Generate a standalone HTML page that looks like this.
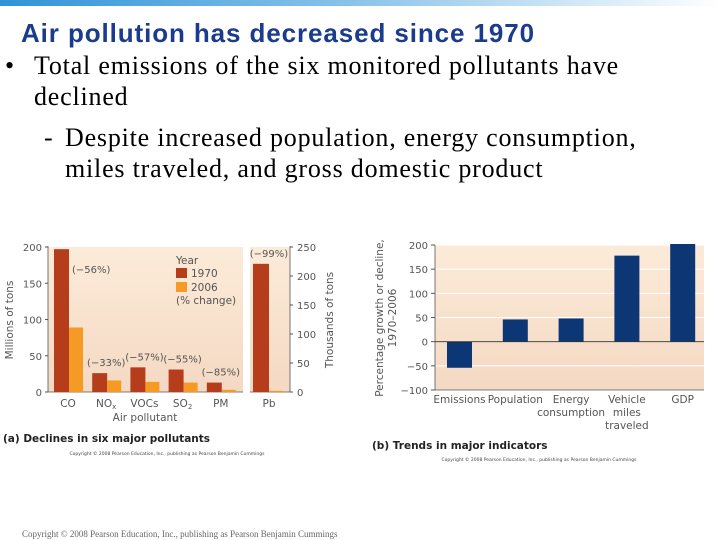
<!DOCTYPE html>
<html><head><meta charset="utf-8"><style>
body{margin:0;width:720px;height:540px;overflow:hidden;background:#fff;position:relative;font-family:"Liberation Serif",serif}
.t{position:absolute;white-space:nowrap}
.b{font-size:26px;line-height:31px;letter-spacing:0.8px}
</style></head><body>
<div style="position:absolute;left:0;top:0;width:720px;height:6px;background:linear-gradient(90deg,#2f93d8,#8cc4ea 50%,#fff)"></div>
<div class="t" style="left:21px;top:18px;font:bold 26px 'Liberation Sans',sans-serif;letter-spacing:0.9px;color:#1b3c8c">Air pollution has decreased since 1970</div>
<div class="t b" style="left:5px;top:50px">•</div>
<div class="t b" style="left:34px;top:50px">Total emissions of the six monitored pollutants have</div>
<div class="t b" style="left:34px;top:81px">declined</div>
<div class="t b" style="left:44px;top:122px">-</div>
<div class="t b" style="left:65px;top:122px">Despite increased population, energy consumption,</div>
<div class="t b" style="left:65px;top:153px">miles traveled, and gross domestic product</div>
<svg id="c" width="720" height="540" style="position:absolute;left:0;top:0" font-family="'DejaVu Sans',sans-serif">
<defs><linearGradient id="bg" x1="0" y1="0" x2="0" y2="1"><stop offset="0" stop-color="#fcebd9"/><stop offset="1" stop-color="#f4d9c3"/></linearGradient></defs>
</svg>
<div class="t" style="left:22px;top:529px;font-size:9px;color:#666">Copyright © 2008 Pearson Education, Inc., publishing as Pearson Benjamin Cummings</div>
<script>
const polCats=["CO","NOx","VOCs","SO2","PM"];
const v1970=[197,26,34,31,13];
const v2006=[89,16,14,13,3];
const pctLabels=["(−56%)","(−33%)","(−57%)","(−55%)","(−85%)"];
const pb1970=[221], pb2006=[2], pbLabel=["(−99%)"];
const leftTicks=[0,50,100,150,200];
const rightTicks=[0,50,100,150,200,250];
const indCats=[["Emissions"],["Population"],["Energy","consumption"],["Vehicle","miles","traveled"],["GDP"]];
const indVals=[-54,46,48,178,203];
const indTicks=[-100,-50,0,50,100,150,200];

const svg=document.getElementById('c');
const NS='http://www.w3.org/2000/svg';
function mk(tag,attrs,txt){const e=document.createElementNS(NS,tag);for(const k in attrs)e.setAttribute(k,attrs[k]);if(txt!==undefined)e.textContent=txt;svg.appendChild(e);return e;}
const y0=392,yTop=247;
const yL=v=>y0-(v/200)*(y0-yTop);
const yR=v=>y0-(v/250)*(y0-yTop);
const xGroup=i=>54+i*38.2;
let e;
e=mk('rect',{x:48,y:yTop,width:195,height:y0-yTop,fill:'url(#bg)'});

e=mk('rect',{x:250,y:yTop,width:40,height:y0-yTop,fill:'url(#bg)'});

mk('line',{x1:48,y1:yTop-1,x2:48,y2:y0,stroke:'#555','stroke-width':0.8});
mk('line',{x1:48,y1:y0,x2:243,y2:y0,stroke:'#555','stroke-width':0.8});
mk('line',{x1:250,y1:y0,x2:290,y2:y0,stroke:'#555','stroke-width':0.8});
mk('line',{x1:290,y1:yTop-1,x2:290,y2:y0,stroke:'#555','stroke-width':0.8});
leftTicks.forEach(t=>{mk('line',{x1:45,y1:yL(t),x2:48,y2:yL(t),stroke:'#555'});
 e=mk('text',{x:42,y:yL(t)+4,'font-size':10,'text-anchor':'end',fill:'#555'},t);
 });
rightTicks.forEach(t=>{mk('line',{x1:290,y1:yR(t),x2:293,y2:yR(t),stroke:'#555'});
 e=mk('text',{x:297,y:yR(t)+4,'font-size':10,fill:'#555'},t);
 });
polCats.forEach((c,i)=>{const x=xGroup(i);
 e=mk('rect',{x:x,y:yL(v1970[i]),width:15,height:y0-yL(v1970[i]),fill:'#b53d1b'});
 
 e=mk('rect',{x:x+15,y:yL(v2006[i]),width:14,height:y0-yL(v2006[i]),fill:'#f49a25'});
 
 const lbl=mk('text',{x:x+14,y:407,'font-size':10.5,'text-anchor':'middle',fill:'#555'});
 
 if(c==='NOx'){lbl.textContent='NO';const s=document.createElementNS(NS,'tspan');s.setAttribute('font-size',7);s.setAttribute('dy',2);s.textContent='x';lbl.appendChild(s);}
 else if(c==='SO2'){lbl.textContent='SO';const s=document.createElementNS(NS,'tspan');s.setAttribute('font-size',7);s.setAttribute('dy',2);s.textContent='2';lbl.appendChild(s);}
 else lbl.textContent=c;
 const ly=i===0?yL(v1970[i])+24:yL(v1970[i])-7;
 const lx=i===0?x+18:x+14;
 e=mk('text',{x:lx,y:ly,'font-size':10,'text-anchor':i===0?'start':'middle',fill:'#555'},pctLabels[i]);
 
});
e=mk('rect',{x:253,y:yR(pb1970[0]),width:16,height:y0-yR(pb1970[0]),fill:'#b53d1b'});

e=mk('rect',{x:269,y:yR(pb2006[0]),width:14,height:y0-yR(pb2006[0]),fill:'#f49a25'});

e=mk('text',{x:269,y:257,'font-size':10,'text-anchor':'middle',fill:'#555'},pbLabel[0]);

e=mk('text',{x:269,y:407,'font-size':10.5,'text-anchor':'middle',fill:'#555'},'Pb');

e=mk('text',{x:145,y:421,'font-size':10.5,'text-anchor':'middle',fill:'#555'},'Air pollutant');

e=mk('text',{x:13,y:320,'font-size':10.5,'text-anchor':'middle',fill:'#555',transform:'rotate(-90 13 320)'},'Millions of tons');

e=mk('text',{x:333,y:320,'font-size':10.5,'text-anchor':'middle',fill:'#555',transform:'rotate(-90 333 320)'},'Thousands of tons');

e=mk('text',{x:176,y:264,'font-size':10.5,fill:'#555'},'Year');
e=mk('rect',{x:176,y:268,width:11,height:10,fill:'#b53d1b'});
e=mk('text',{x:191,y:277,'font-size':10.5,fill:'#555'},'1970');
e=mk('rect',{x:176,y:282,width:11,height:10,fill:'#f49a25'});
e=mk('text',{x:191,y:291,'font-size':10.5,fill:'#555'},'2006');
e=mk('text',{x:176,y:304,'font-size':10.5,fill:'#555'},'(% change)');
e=mk('text',{x:3,y:442,'font-size':10.5,'font-weight':'bold',fill:'#222'},'(a) Declines in six major pollutants');

e=mk('text',{x:167,y:455,'font-size':4.5,'text-anchor':'middle',fill:'#444'},'Copyright © 2008 Pearson Education, Inc., publishing as Pearson Benjamin Cummings');

const bTop=245,bBot=390;
const yB=v=>bBot-((v+100)/300)*(bBot-bTop);
const xB=i=>447+i*55.8;
e=mk('rect',{x:435,y:bTop,width:269,height:bBot-bTop,fill:'url(#bg)'});

indTicks.forEach(t=>{
 if(t!==-100&&t!==0) mk('line',{x1:435,y1:yB(t),x2:704,y2:yB(t),stroke:'#fff','stroke-width':1});
 mk('line',{x1:431,y1:yB(t),x2:435,y2:yB(t),stroke:'#555'});
 e=mk('text',{x:428,y:yB(t)+4,'font-size':10,'text-anchor':'end',fill:'#555'},t<0?'−'+(-t):t);
 });
mk('line',{x1:435,y1:bTop,x2:435,y2:bBot,stroke:'#555','stroke-width':0.8});
mk('line',{x1:435,y1:bBot,x2:704,y2:bBot,stroke:'#555','stroke-width':0.8});
indVals.forEach((v,i)=>{const x=xB(i);const yv=Math.max(yB(v),bTop-1);const yz=yB(0);
 e=mk('rect',{x:x,y:Math.min(yv,yz),width:25,height:Math.abs(yz-yv),fill:'#0d3674'});
 
 indCats[i].forEach((ln,j)=>{e=mk('text',{x:x+12.5,y:403+j*13,'font-size':10.5,'text-anchor':'middle',fill:'#555'},ln);
  });
});
mk('line',{x1:435,y1:yB(0),x2:704,y2:yB(0),stroke:'#333','stroke-width':0.9});
e=mk('text',{x:383,y:318,'font-size':10.5,'text-anchor':'middle',fill:'#555',transform:'rotate(-90 383 318)'},'Percentage growth or decline,');

e=mk('text',{x:396,y:318,'font-size':10.5,'text-anchor':'middle',fill:'#555',transform:'rotate(-90 396 318)'},'1970–2006');

e=mk('text',{x:372,y:449,'font-size':10.5,'font-weight':'bold',fill:'#222'},'(b) Trends in major indicators');

e=mk('text',{x:539,y:461,'font-size':4.5,'text-anchor':'middle',fill:'#444'},'Copyright © 2008 Pearson Education, Inc., publishing as Pearson Benjamin Cummings');

</script>
</body></html>
